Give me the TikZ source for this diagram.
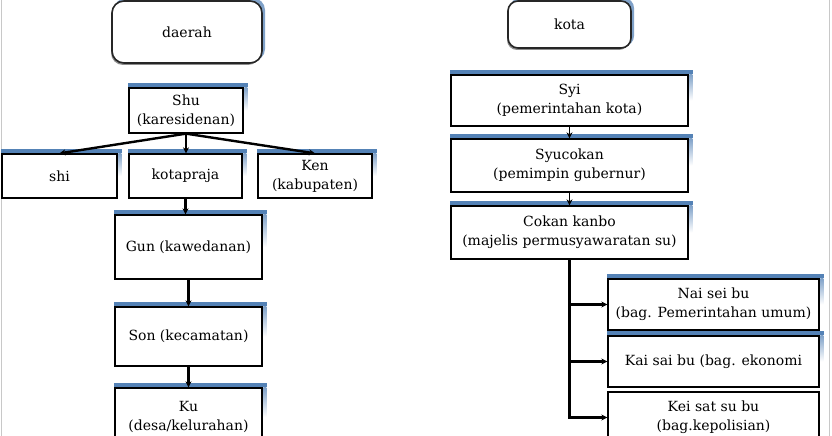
\documentclass[tikz,border=0pt]{standalone}
\usepackage{fontspec}
\setmainfont{DejaVu Serif}
\usetikzlibrary{arrows.meta}
\definecolor{barblue}{RGB}{84,130,182}
\definecolor{edgegray}{RGB}{200,200,200}
\tikzset{
  lbl/.style={font=\fontsize{14}{19}\selectfont, align=center},
  sqbox/.style={lbl, draw=black, line width=1.3pt, fill=white, inner sep=0pt},
  rbox/.style={lbl, draw=black!85, line width=1.6pt, fill=white, rounded corners=12pt, inner sep=0pt},
  arr/.style={line width=2.4pt, -{Stealth[length=6pt,width=6pt]}},
}
\begin{document}
\begin{tikzpicture}[x=1pt,y=-1pt]
\useasboundingbox (0,0) rectangle (832,436);
\clip (0,0) rectangle (832,436);
\fill[white] (0,0) rectangle (832,436);
\draw[edgegray, line width=1pt] (1,0) -- (1,436);
\draw[edgegray, line width=1pt] (829.5,0) -- (829.5,436);

% rounded header boxes with glow
\fill[barblue!75, rounded corners=12pt] (114,-2) rectangle (265,61);
\fill[black!45, rounded corners=12pt] (111,3) rectangle (260,65);
\node[rbox, minimum width=150pt, minimum height=62pt] (daerah) at (187,32) {daerah};
\fill[barblue!75, rounded corners=10pt] (510,-2) rectangle (634,46);
\fill[black!45, rounded corners=10pt] (507,3) rectangle (629,50);
\node[rbox, rounded corners=10pt, minimum width=123pt, minimum height=47pt] (kota) at (569.5,24.5) {kota};

% left column
\node[sqbox, minimum width=114pt, minimum height=45pt] (shu) at (186,110.5) {Shu\\(karesidenan)};
\node[sqbox, minimum width=115pt, minimum height=44pt] (shi) at (59.5,176) {shi};
\node[sqbox, minimum width=113pt, minimum height=44pt] (kp) at (185.5,176) {kotapraja};
\node[sqbox, minimum width=114pt, minimum height=44pt] (ken) at (315,176) {Ken\\(kabupaten)};
\node[sqbox, minimum width=147pt, minimum height=64pt] (gun) at (188.5,247) {Gun (kawedanan)};
\node[sqbox, minimum width=147pt, minimum height=59pt] (son) at (188.5,336.5) {Son (kecamatan)};
\node[sqbox, minimum width=147pt, minimum height=58pt] (ku) at (188.5,417) {Ku\\(desa/kelurahan)};

% right column
\node[sqbox, minimum width=237pt, minimum height=51pt] (syi) at (569.5,100.5) {Syi\\(pemerintahan kota)};
\node[sqbox, minimum width=237pt, minimum height=53pt] (syu) at (569.5,165.5) {Syucokan\\(pemimpin gubernur)};
\node[sqbox, minimum width=237pt, minimum height=53pt] (cok) at (569.5,232.5) {Cokan kanbo\\(majelis permusyawaratan su)};
\node[sqbox, minimum width=211pt, minimum height=51pt] (nai) at (713.5,304.5) {Nai sei bu\\(bag. Pemerintahan umum)};
\node[sqbox, minimum width=211pt, minimum height=51pt] (kai) at (713.5,361.5) {Kai sai bu (bag. ekonomi};
\node[sqbox, minimum width=211pt, minimum height=51pt] (kei) at (713.5,417.5) {Kei sat su bu\\(bag.kepolisian)};

% blue top bars and right shadows
\foreach \n in {shu,shi,kp,ken,gun,son,ku,syi,syu,cok,nai,kai}{
  \fill[barblue] ([xshift=-0.5pt,yshift=0.6pt]\n.north west) rectangle ([xshift=4pt,yshift=4.2pt]\n.north east);
  \shade[top color=barblue!75, bottom color=white] ([xshift=0.6pt]\n.north east) rectangle ([xshift=3.8pt]\n.east);
}

% connectors
\draw[arr] (shu.south) -- (shi.north);
\draw[arr] (shu.south) -- (shu.south |- kp.north);
\draw[arr] (shu.south) -- (ken.north);
\draw[arr] (kp.south) -- (kp.south |- gun.north);
\draw[arr] (gun.south) -- (son.north);
\draw[arr] (son.south) -- (ku.north);

\draw[arr, line width=1.8pt] (syi.south) -- (syu.north);
\draw[arr, line width=1.8pt] (syu.south) -- (cok.north);
\draw[arr] (cok.south) |- (nai.west);
\draw[arr] (cok.south) |- (kai.west);
\draw[arr] (cok.south) |- (kei.west);
\end{tikzpicture}
\end{document}
